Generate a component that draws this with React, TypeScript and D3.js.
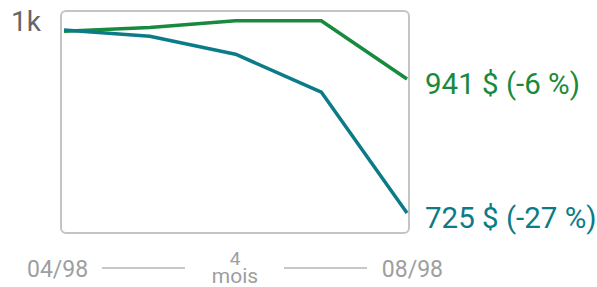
import React from 'react';
import * as d3 from 'd3';

const months = ['04/98', '05/98', '06/98', '07/98', '08/98'];
const greenValues = [1018, 1024, 1035, 1035, 941];
const tealValues = [1020, 1010, 981, 920, 725];
const greenLabel = '941 $ (-6 %)';
const tealLabel = '725 $ (-27 %)';
const topLabel = '1k';
const spanLabel = ['4', 'mois'];

const GREEN = '#188a3e';
const TEAL = '#0b7b88';

export default function App() {
  const width = 597;
  const height = 287;

  const xScale = d3.scaleLinear().domain([0, months.length - 1]).range([64, 407]);
  // fit to the two end values
  const yScale = d3.scaleLinear().domain([725, 941]).range([213, 79]);

  const line = d3
    .line<number>()
    .x((_, i) => xScale(i))
    .y((d) => yScale(d));

  const series = [
    { name: 'green', color: GREEN, values: greenValues, label: greenLabel },
    { name: 'teal', color: TEAL, values: tealValues, label: tealLabel },
  ];

  const font = 'Roboto, sans-serif';

  return (
    <svg
      width={width}
      height={height}
      style={{ position: 'absolute', left: 0, top: 0 }}
      fontFamily={font}
    >
      <rect x={61} y={11} width={348} height={222} rx={5} fill="none" stroke="#c4c4c4" strokeWidth={2} />
      <text x={11} y={31} fontSize={28} fill="#666">
        {topLabel}
      </text>
      {series.map((s) => (
        <path
          key={s.name}
          d={line(s.values) || ''}
          fill="none"
          stroke={s.color}
          strokeWidth={3.5}
          strokeLinejoin="round"
        />
      ))}
      {series.map((s) => (
        <text
          key={s.name + '-label'}
          x={xScale(months.length - 1) + 18}
          y={yScale(s.values[s.values.length - 1]) + 15}
          fontSize={29.5}
          fill={s.color}
        >
          {s.label}
        </text>
      ))}
      <text x={27} y={277} fontSize={23} fill="#9e9e9e">
        {months[0]}
      </text>
      <text x={443} y={277} fontSize={23} fill="#9e9e9e" textAnchor="end">
        {months[months.length - 1]}
      </text>
      <line x1={102} x2={185} y1={268} y2={268} stroke="#c8c8c8" strokeWidth={2} />
      <line x1={284} x2={367} y1={268} y2={268} stroke="#c8c8c8" strokeWidth={2} />
      <text x={235} y={265} fontSize={19} fill="#9e9e9e" textAnchor="middle">
        {spanLabel[0]}
      </text>
      <text x={235} y={283} fontSize={21} fill="#9e9e9e" textAnchor="middle">
        {spanLabel[1]}
      </text>
    </svg>
  );
}
